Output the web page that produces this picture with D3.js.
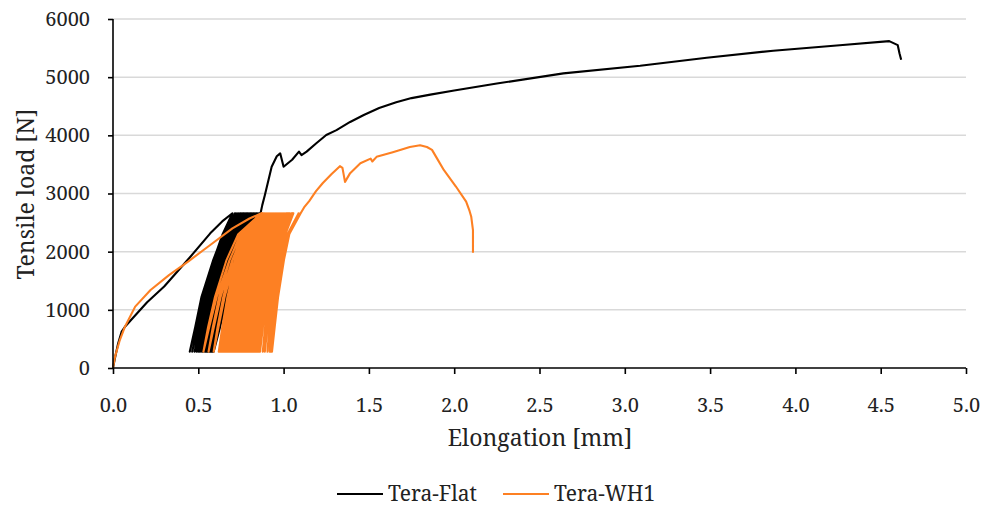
<!DOCTYPE html>
<html>
<head>
<meta charset="utf-8">
<script src="https://cdn.jsdelivr.net/npm/d3@7"></script>
<style>
body { margin: 0; background: #fff; }
</style>
</head>
<body>
<svg id="chart" width="992" height="515"></svg>
<script>
var xTicks = [0, 0.5, 1.0, 1.5, 2.0, 2.5, 3.0, 3.5, 4.0, 4.5, 5.0]
var yTicks = [0, 1000, 2000, 3000, 4000, 5000, 6000]
var seriesNames = ['Tera-Flat', 'Tera-WH1']
var seriesColors = ['#000000', '#fd8023']
var fontName = 'Noto Serif, Liberation Serif, serif'

// load levels used for every unload/reload cycle (N)
var loopLoads = [280, 700, 1225, 1860, 2300, 2660]
// share of the cycle width reached at each load level
var flatReload = [0, 0.12, 0.26, 0.52, 0.74, 1]
var flatUnload = [0, 0.14, 0.3, 0.56, 0.77, 1]
var wh1Reload = [0, 0.08, 0.2, 0.4, 0.6, 1]
var wh1Unload = [0, 0.1, 0.23, 0.45, 0.65, 1]

// Tera-Flat: first loading, cycles [bottom x, top x], final loading
var flatStart = [[0, 0], [0.01, 150], [0.03, 420], [0.05, 620], [0.07, 710], [0.2, 1130], [0.3, 1400],
  [0.45, 1900], [0.57, 2315], [0.64, 2520], [0.7, 2660]]
var flatCycles = [[0.450, 0.715], [0.464, 0.726], [0.478, 0.737], [0.490, 0.747], [0.500, 0.756],
  [0.508, 0.764], [0.516, 0.772], [0.524, 0.780], [0.532, 0.788], [0.540, 0.796], [0.547, 0.804],
  [0.554, 0.812], [0.561, 0.821], [0.568, 0.830], [0.575, 0.839], [0.581, 0.848], [0.586, 0.857],
  [0.590, 0.865]]
var flatEnd = [[0.875, 2800], [0.89, 2970], [0.93, 3460], [0.96, 3640], [0.98, 3690], [1.0, 3460],
  [1.05, 3580], [1.09, 3720], [1.105, 3660], [1.135, 3720], [1.19, 3860], [1.25, 4005], [1.31, 4090],
  [1.39, 4230], [1.47, 4350], [1.56, 4470], [1.66, 4570], [1.75, 4640], [1.86, 4700], [2.0, 4770],
  [2.25, 4890], [2.64, 5065], [3.09, 5195], [3.48, 5335], [3.87, 5455], [4.26, 5550], [4.55, 5620],
  [4.60, 5550], [4.61, 5410], [4.62, 5300]]

// Tera-WH1
var wh1Start = [[0, 0], [0.012, 195], [0.04, 480], [0.07, 710], [0.13, 1055], [0.22, 1340], [0.33, 1600],
  [0.44, 1830], [0.57, 2115], [0.7, 2400], [0.8, 2570], [0.87, 2660]]
var wh1Cycles = [[0.530, 0.870], [0.560, 0.871], [0.590, 0.873], [0.620, 0.875], [0.628, 0.879],
  [0.637, 0.884], [0.646, 0.890], [0.655, 0.896], [0.664, 0.902], [0.673, 0.908], [0.682, 0.914],
  [0.691, 0.920], [0.700, 0.926], [0.709, 0.932], [0.718, 0.938], [0.727, 0.944], [0.736, 0.950],
  [0.745, 0.956], [0.754, 0.962], [0.763, 0.968], [0.772, 0.974], [0.781, 0.980], [0.790, 0.986],
  [0.799, 0.992], [0.808, 0.998], [0.817, 1.004], [0.826, 1.010], [0.835, 1.016], [0.844, 1.022],
  [0.853, 1.028], [0.862, 1.034], [0.878, 1.044], [0.890, 1.050], [0.905, 1.054], [0.918, 1.057],
  [0.925, 1.088], [0.932, 1.100]]
var wh1End = [[1.12, 2760], [1.15, 2870], [1.19, 3040], [1.23, 3180], [1.28, 3330], [1.33, 3470],
  [1.345, 3440], [1.36, 3200], [1.39, 3350], [1.45, 3520], [1.51, 3600], [1.52, 3550], [1.545, 3630],
  [1.64, 3710], [1.74, 3800], [1.80, 3830], [1.84, 3800], [1.87, 3750], [1.9, 3600], [1.94, 3400],
  [2.01, 3120], [2.07, 2860], [2.09, 2700], [2.10, 2600], [2.11, 2370], [2.11, 1980]]

function buildSeries(start, cycles, reload, unload, end) {
  var pts = start.slice()
  var prevTop = start[start.length - 1][0]
  cycles.forEach(function(c) {
    var b = c[0], t = c[1]
    for (var k = loopLoads.length - 2; k >= 0; k--) {
      pts.push([b + unload[k] * (prevTop - b), loopLoads[k]])
    }
    for (var j = 1; j < loopLoads.length; j++) {
      pts.push([b + reload[j] * (t - b), loopLoads[j]])
    }
    prevTop = t
  })
  return pts.concat(end)
}

var series = [
  buildSeries(flatStart, flatCycles, flatReload, flatUnload, flatEnd),
  buildSeries(wh1Start, wh1Cycles, wh1Reload, wh1Unload, wh1End)
]

var svg = d3.select('#chart').attr('font-family', fontName)
var x = d3.scaleLinear().domain([0, 5]).range([113, 966])
var y = d3.scaleLinear().domain([0, 6000]).range([368, 19])

// grid
svg.append('g').selectAll('line')
  .data(yTicks.slice(1))
  .enter().append('line')
    .attr('x1', x(0)).attr('x2', x(5))
    .attr('y1', function(d) { return y(d) }).attr('y2', function(d) { return y(d) })
    .attr('stroke', '#d9d9d9').attr('stroke-width', 1.5)

var line = d3.line()
  .x(function(d) { return x(d[0]) })
  .y(function(d) { return y(d[1]) })

svg.append('g').selectAll('path')
  .data(series)
  .enter().append('path')
    .attr('d', line)
    .attr('fill', 'none')
    .attr('stroke', function(d, i) { return seriesColors[i] })
    .attr('stroke-width', 2.1)
    .attr('stroke-linejoin', 'round')

// axes
var xAxis = svg.append('g')
  .attr('transform', 'translate(0,' + y(0) + ')')
  .call(d3.axisBottom(x).tickValues(xTicks).tickSize(6).tickPadding(24)
    .tickFormat(d3.format('.1f')))
var yAxis = svg.append('g')
  .attr('transform', 'translate(' + x(0) + ',0)')
  .call(d3.axisLeft(y).tickValues(yTicks).tickSize(5).tickPadding(18)
    .tickFormat(d3.format('d')))

svg.selectAll('.domain, .tick line').attr('stroke', '#000').attr('stroke-width', 1.6)
xAxis.select('.domain').attr('d', 'M' + x(0) + ',0H' + x(5))
yAxis.select('.domain').attr('d', 'M0,' + y(0) + 'V' + y(6000))
xAxis.attr('font-family', fontName).attr('font-size', 20)
yAxis.attr('font-family', fontName).attr('font-size', 20)
svg.selectAll('.tick text').attr('fill', '#222')

svg.append('text')
  .attr('x', 540).attr('y', 446)
  .attr('text-anchor', 'middle')
  .attr('font-size', 23)
  .attr('fill', '#222')
  .text('Elongation [mm]')

svg.append('text')
  .attr('transform', 'translate(34,194) rotate(-90)')
  .attr('text-anchor', 'middle')
  .attr('font-size', 23)
  .attr('fill', '#222')
  .text('Tensile load [N]')

// legend
var legendX = [337, 503]
var legend = svg.append('g').selectAll('g')
  .data(seriesNames)
  .enter().append('g')
    .attr('transform', function(d, i) { return 'translate(' + legendX[i] + ',494)' })
legend.append('line')
  .attr('x1', 0).attr('x2', 46)
  .attr('stroke', function(d, i) { return seriesColors[i] })
  .attr('stroke-width', 2)
legend.append('text')
  .attr('x', 51).attr('y', 7)
  .attr('font-size', 21)
  .attr('fill', '#222')
  .text(function(d) { return d })
</script>
</body>
</html>
